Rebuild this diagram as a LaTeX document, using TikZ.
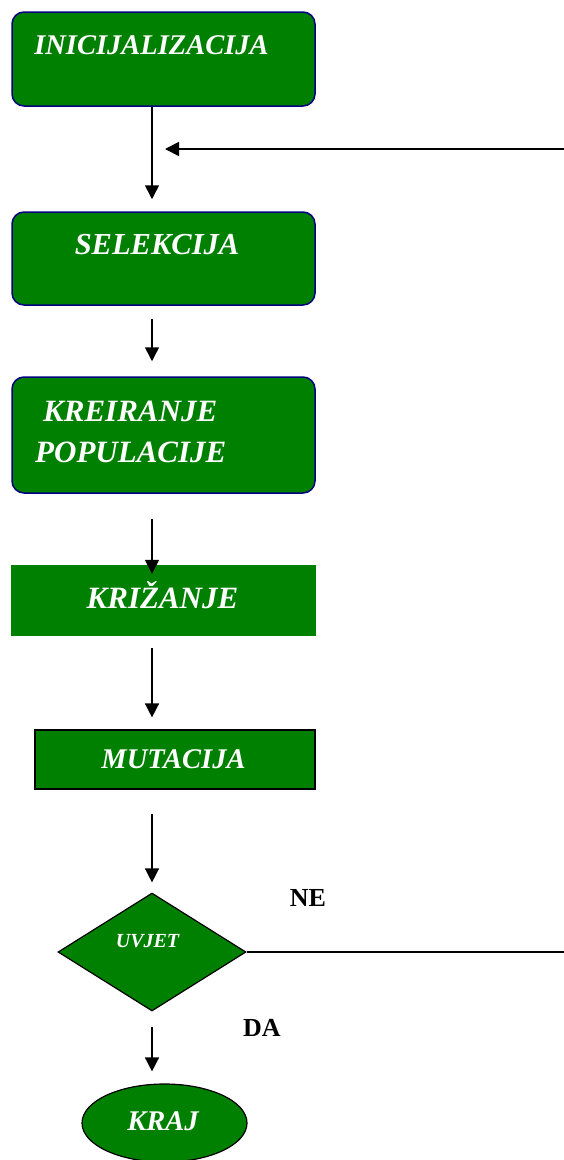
\documentclass[tikz,border=0pt]{standalone}
\usepackage{fontspec}
\setmainfont{Liberation Serif}
\usetikzlibrary{arrows.meta,shapes.geometric}
\definecolor{boxgreen}{RGB}{0,128,0}
\definecolor{boxnavy}{RGB}{0,0,128}
\newcommand{\boxfont}[1]{\fontsize{#1}{#1}\selectfont\bfseries\itshape}

\begin{document}
\begin{tikzpicture}[x=1pt,y=-1pt,>={Triangle[width=14pt,length=14pt]},
  roundbox/.style={draw=boxnavy,line width=1.5pt,fill=boxgreen,rounded corners=12pt,minimum width=303pt,inner sep=0pt},
  plainbox/.style={fill=boxgreen,inner sep=0pt},
  boxtext/.style={text=white,font=\boxfont{28.5},inner sep=0pt,align=left},
  answer/.style={font=\fontsize{26}{30}\selectfont\bfseries,inner sep=0pt},
  flow/.style={->,line width=1.5pt}]
  \useasboundingbox (0,0) rectangle (564,1160);
  % boxes
  \node[roundbox,minimum height=94pt] (init) at (163.5,59) {};
  \node[roundbox,minimum height=93pt] (sel) at (163.5,258.5) {};
  \node[roundbox,minimum height=116pt] (kreir) at (163.5,435) {};
  \node[plainbox,minimum width=305pt,minimum height=71pt] (kriz) at (163.5,600.5) {};
  \node[plainbox,draw=black,line width=1.2pt,minimum width=280pt,minimum height=59pt] (mut) at (175,759.5) {};
  \node[diamond,draw=black,line width=1.2pt,fill=boxgreen,minimum width=188pt,minimum height=118pt,inner sep=0pt] (uvjet) at (152,952) {};
  \node[ellipse,draw=black,line width=1.2pt,fill=boxgreen,minimum width=165pt,minimum height=78pt,inner sep=0pt] (kraj) at (164.5,1123) {};
  % texts
  \node[boxtext] (initt) at (151.5,45) {INICIJALIZACIJA};
  \node[boxtext,font=\boxfont{30.5}] (selt) at (157,245) {SELEKCIJA};
  \node[boxtext,font=\boxfont{31},anchor=west] (kreirt) at (43,411) {KREIRANJE};
  \node[boxtext,font=\boxfont{31},anchor=west] (popt) at (35,452) {POPULACIJE};
  \node[boxtext,font=\boxfont{31}] (krizt) at (162.5,595) {KRIŽANJE};
  \node[boxtext] (mutt) at (173.5,759) {MUTACIJA};
  \node[boxtext,font=\boxfont{20}] (uvjett) at (147.5,941) {UVJET};
  \node[boxtext] (krajt) at (163,1121) {KRAJ};
  \node[answer] (ne) at (308,898) {NE};
  \node[answer] (da) at (262,1028) {DA};
  % connectors
  \draw[flow,shorten >=12pt] (init.south -| uvjet) -- (sel.north -| uvjet);
  \draw[flow,shorten <=13pt,shorten >=15pt] (sel.south -| uvjet) -- (kreir.north -| uvjet);
  \draw[flow,shorten <=25pt,shorten >=-9pt] (kreir.south -| uvjet) -- (kriz.north -| uvjet);
  \draw[flow,shorten <=12pt,shorten >=12pt] (kriz.south -| uvjet) -- (mut.north -| uvjet);
  \draw[flow,shorten <=24pt,shorten >=10pt] (mut.south -| uvjet) -- (uvjet.north);
  \draw[flow,shorten <=15pt,shorten >=12pt] (uvjet.south) -- (kraj.north -| uvjet);
  \coordinate (loopr) at (564,952);
  \coordinate (loopt) at (564,149);
  \coordinate (loopin) at (165,149);
  \draw[line width=1.8pt] (uvjet.east) -- (loopr);
  \draw[flow,line width=1.8pt] (loopt) -- (loopin);
\end{tikzpicture}
\end{document}
